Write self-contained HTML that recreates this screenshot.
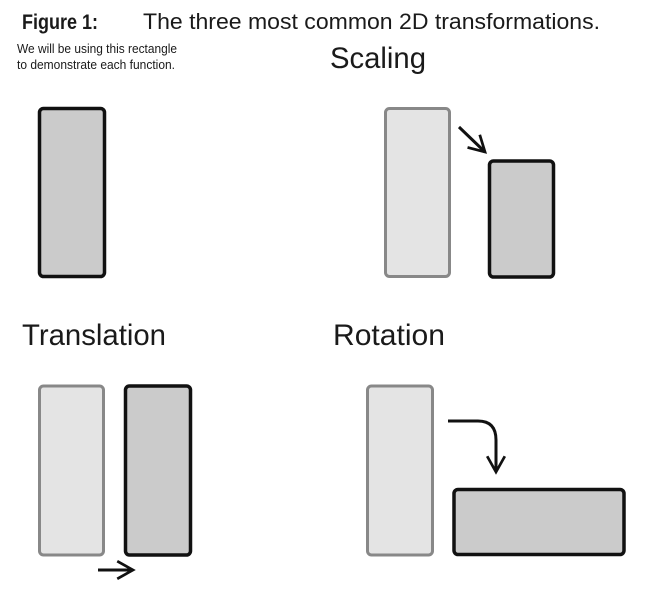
<!DOCTYPE html>
<html><head><meta charset="utf-8"><style>
html,body{margin:0;padding:0;background:#fff;}
svg{display:block;}
text{font-family:"Liberation Sans",sans-serif;fill:#1a1a1a;}
</style></head><body>
<svg width="661" height="595" viewBox="0 0 661 595" xmlns="http://www.w3.org/2000/svg">
<defs>
<marker id="ah" viewBox="0 0 10 10" refX="8.5" refY="5" markerWidth="7" markerHeight="7" orient="auto">
<path d="M1,0.8 L8.5,5 L1,9.2" fill="none" stroke="#111" stroke-width="1.3"/>
</marker>
</defs>
<text x="22" y="29" font-size="21" font-weight="bold" textLength="76" lengthAdjust="spacingAndGlyphs">Figure 1:</text>
<text x="143" y="29" font-size="22" textLength="457" lengthAdjust="spacingAndGlyphs">The three most common 2D transformations.</text>
<text x="17" y="53" font-size="13" textLength="160" lengthAdjust="spacingAndGlyphs">We will be using this rectangle</text>
<text x="17" y="69" font-size="13" textLength="158" lengthAdjust="spacingAndGlyphs">to demonstrate each function.</text>
<text x="330" y="68" font-size="30" textLength="96" lengthAdjust="spacingAndGlyphs">Scaling</text>
<text x="22" y="345" font-size="30" textLength="144" lengthAdjust="spacingAndGlyphs">Translation</text>
<text x="333" y="345" font-size="30" textLength="112" lengthAdjust="spacingAndGlyphs">Rotation</text>

<rect x="39.5" y="108.5" width="65" height="168" rx="4" fill="#cbcbcb" stroke="#111" stroke-width="3.5"/>

<rect x="385.5" y="108.5" width="64" height="168" rx="4" fill="#e4e4e4" stroke="#888" stroke-width="3"/>
<rect x="489.5" y="161" width="64" height="116" rx="4" fill="#cbcbcb" stroke="#111" stroke-width="3.5"/>
<line x1="459" y1="127" x2="485" y2="152" stroke="#111" stroke-width="3" marker-end="url(#ah)"/>

<rect x="39.5" y="386" width="64" height="169" rx="4" fill="#e4e4e4" stroke="#888" stroke-width="3"/>
<rect x="125.5" y="386" width="65" height="169" rx="4" fill="#cbcbcb" stroke="#111" stroke-width="3.5"/>
<line x1="98" y1="570" x2="133" y2="570" stroke="#111" stroke-width="3" marker-end="url(#ah)"/>

<rect x="367.5" y="386" width="65" height="169" rx="4" fill="#e4e4e4" stroke="#888" stroke-width="3"/>
<rect x="454" y="489.5" width="170" height="65" rx="4" fill="#cbcbcb" stroke="#111" stroke-width="3.5"/>
<path d="M448,421 L478,421 Q496,421 496,440 L496,472" fill="none" stroke="#111" stroke-width="3" marker-end="url(#ah)"/>
</svg>
</body></html>
